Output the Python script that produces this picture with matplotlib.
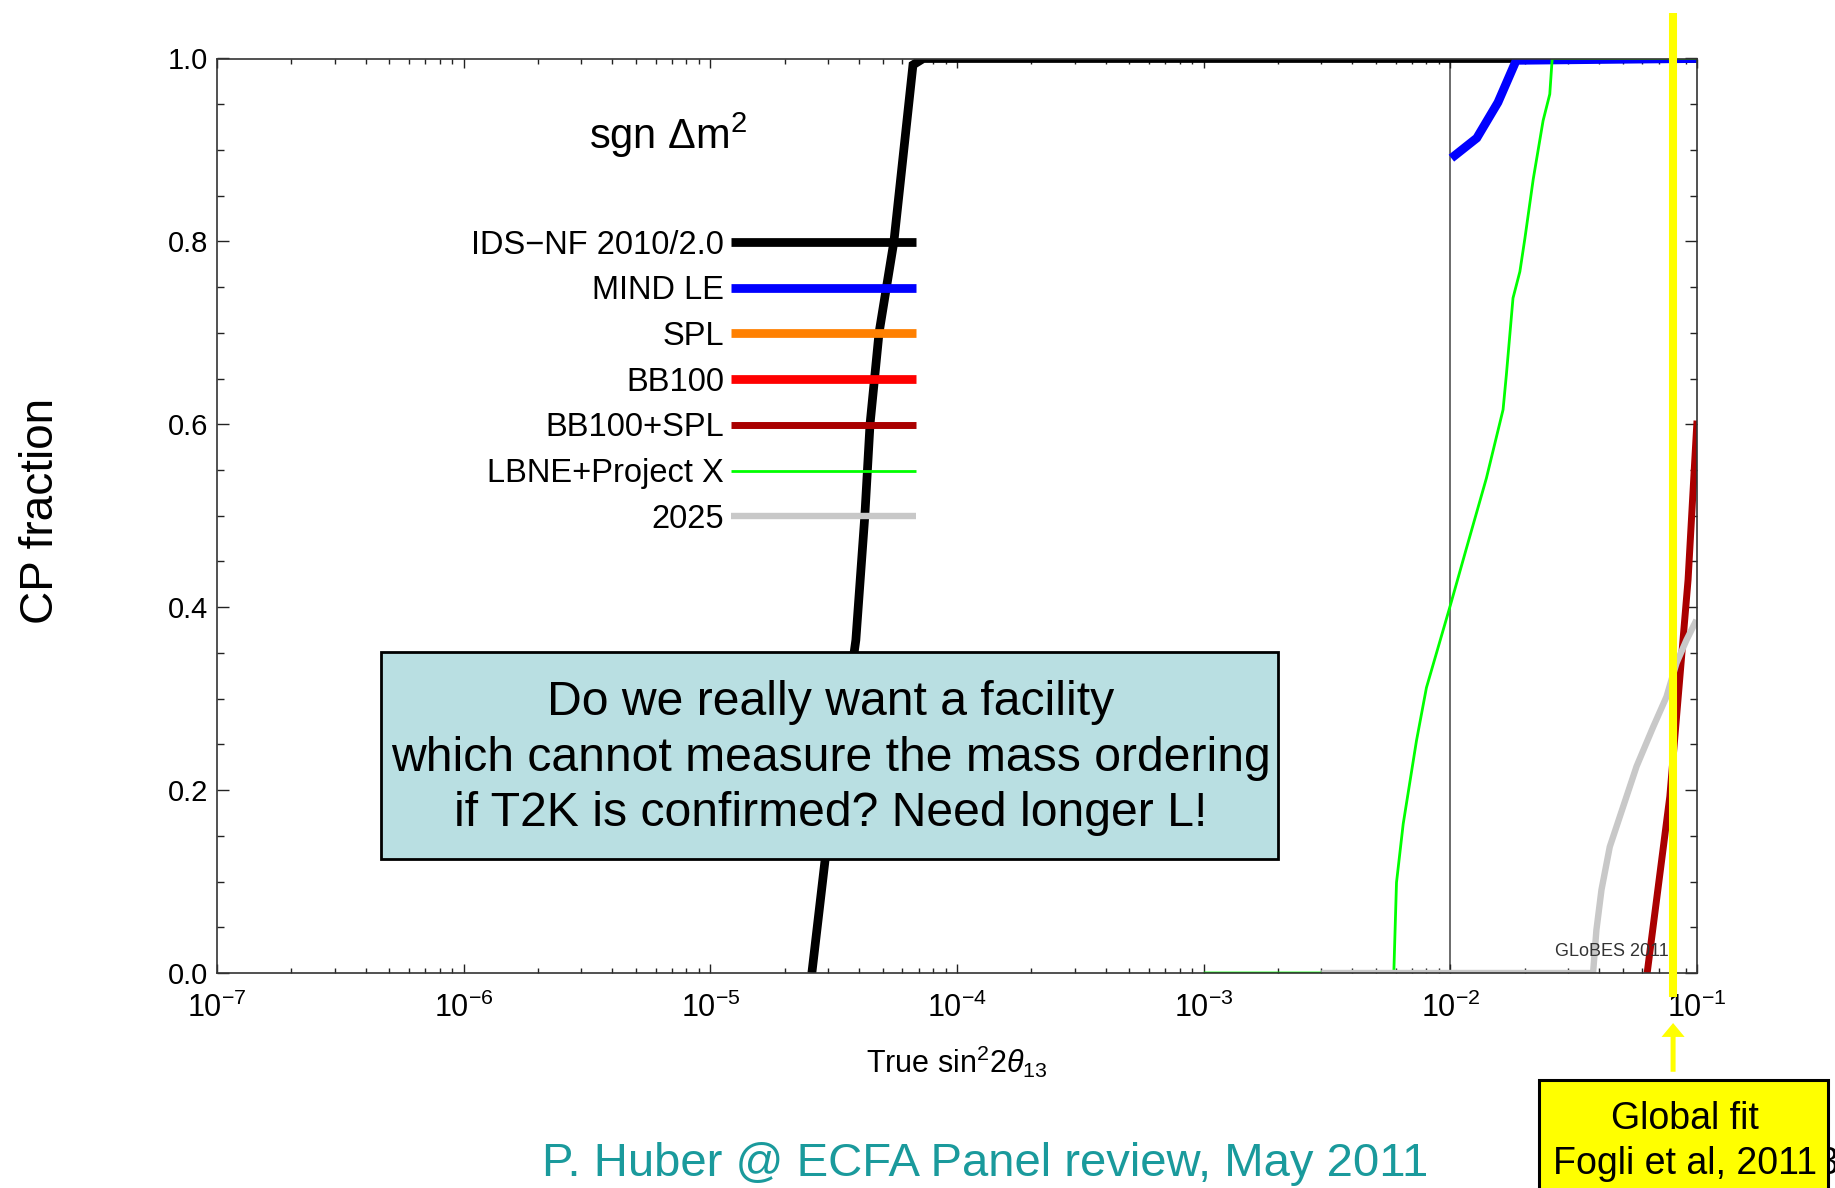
import numpy as np
import matplotlib
matplotlib.use("Agg")
import matplotlib.pyplot as plt
from matplotlib.patches import Rectangle
from matplotlib.ticker import FixedLocator, MultipleLocator, FuncFormatter, NullFormatter, FormatStrFormatter
from matplotlib.transforms import blended_transform_factory

plt.rcParams["font.family"] = ["Liberation Sans", "DejaVu Sans"]
plt.rcParams["mathtext.fontset"] = "custom"
plt.rcParams["mathtext.rm"] = "Liberation Sans"
plt.rcParams["mathtext.it"] = "Liberation Sans:italic"

# fraction of delta_CP for which sgn(dm^2) is resolved, vs true sin^2 2theta13
ids_x = [2.58e-5, 2.92e-5, 3.89e-5, 4.23e-5, 4.44e-5, 4.83e-5, 5.55e-5, 6.63e-5, 7.3e-5, 0.1]
ids_y = [0.0, 0.124, 0.364, 0.50, 0.60, 0.70, 0.80, 0.993, 1.0, 1.0]

mind_x = [0.0101, 0.0128, 0.0156, 0.0185, 0.1]
mind_y = [0.891, 0.913, 0.952, 0.998, 1.0]

# SPL and BB100 alone never leave zero inside the plotted range
spl_x, spl_y = [], []
bb100_x, bb100_y = [], []

bbspl_x = [0.0628, 0.0776, 0.092, 0.1]
bbspl_y = [0.0, 0.193, 0.430, 0.604]

lbne_x = [1e-3, 5.90e-3, 6.05e-3, 6.44e-3, 7.29e-3, 8.0e-3, 0.01, 0.01161, 0.014, 0.01636,
          0.01687, 0.01795, 0.01914, 0.02005, 0.02168, 0.02377, 0.0253, 0.02588, 0.1]
lbne_y = [0.0, 0.0, 0.099, 0.163, 0.254, 0.312, 0.402, 0.464, 0.541, 0.616,
          0.654, 0.738, 0.767, 0.803, 0.868, 0.932, 0.961, 1.0, 1.0]

y2025_x = [3.0e-3, 0.0379, 0.0391, 0.0410, 0.0443, 0.0502, 0.0569, 0.0664, 0.0752, 0.0826, 0.0906, 0.0995]
y2025_y = [0.0, 0.0, 0.047, 0.091, 0.138, 0.182, 0.226, 0.269, 0.302, 0.339, 0.364, 0.386]

series = [
    ("IDS\u2212NF 2010/2.0", ids_x, ids_y, "#000000", 6.3),
    ("MIND LE", mind_x, mind_y, "#0000FF", 6.3),
    ("SPL", spl_x, spl_y, "#FF8000", 6.3),
    ("BB100", bb100_x, bb100_y, "#FF0000", 6.3),
    ("BB100+SPL", bbspl_x, bbspl_y, "#AA0000", 5.0),
    ("LBNE+Project X", lbne_x, lbne_y, "#00FF00", 2.0),
    ("2025", y2025_x, y2025_y, "#C8C8C8", 4.6),
]

decades = np.arange(-7, 0)
global_fit = 0.08  # best-fit sin^2 2theta13 (Fogli et al. 2011)

fig = plt.figure(figsize=(18.35, 11.88), dpi=100)
ax = fig.add_axes([217 / 1835, 215 / 1188, 1480 / 1835, 914.5 / 1188])

for label, xs, ys, color, lw in series:
    ax.plot(xs, ys, color=color, lw=lw, label=label, solid_capstyle="butt", solid_joinstyle="miter")

ax.axvline(1e-2, color="#444444", lw=1.1, zorder=1.5)

ax.set_xscale("log")
ax.set_xlim(1e-7, 1e-1)
ax.set_ylim(0, 1)
ax.xaxis.set_major_locator(FixedLocator(10.0 ** decades))
ax.xaxis.set_minor_locator(FixedLocator([m * 10.0 ** d for d in decades[:-1] for m in range(2, 10)]))
ax.xaxis.set_minor_formatter(NullFormatter())
ax.xaxis.set_major_formatter(FuncFormatter(lambda v, p: r"$\mathregular{10^{%d}}$" % round(np.log10(v))))
ax.yaxis.set_major_locator(MultipleLocator(0.2))
ax.yaxis.set_minor_locator(MultipleLocator(0.05))
ax.yaxis.set_major_formatter(FormatStrFormatter("%.1f"))

ax.tick_params(which="both", direction="in", top=True, right=True, width=1.0, color="#222222")
ax.tick_params(axis="x", which="major", length=6.5, labelsize=22, pad=14)
ax.tick_params(axis="x", which="minor", length=3.6)
ax.tick_params(axis="y", which="major", length=8.6, labelsize=21, pad=6.5)
ax.tick_params(axis="y", which="minor", length=5)
for sp in ax.spines.values():
    sp.set_linewidth(1.2)
    sp.set_color("#333333")

ax.set_ylabel("CP fraction", fontsize=33)
ax.yaxis.set_label_coords(-0.104, 0.505)
ax.set_xlabel(r"True sin$^2$2$\theta_{13}$", fontsize=22)
ax.xaxis.set_label_coords(0.5, -0.077)

leg = ax.legend(loc="upper right", bbox_to_anchor=(0.4723, 0.813), bbox_transform=ax.transAxes,
                markerfirst=False, frameon=False, fontsize=23.5, handlelength=5.67,
                handletextpad=0.21, labelspacing=0.45, borderpad=0, borderaxespad=0)
ax.text(0.3047, 0.916, "sgn \u0394m$^2$", transform=ax.transAxes, ha="center", va="center", fontsize=30)

ax.text(0.904, 0.024, "GLoBES 2011", transform=ax.transAxes, ha="left", va="center",
        fontsize=13, color="#333333")

# message box over the plot
ax.add_patch(Rectangle((0.1111, 0.1247), 0.6058, 0.2263, transform=ax.transAxes,
                       facecolor="#B9DFE2", edgecolor="black", lw=2.0, zorder=6, clip_on=False))
ax.text(0.4149, 0.2351,
        "Do we really want a facility\nwhich cannot measure the mass ordering\nif T2K is confirmed? Need longer L!",
        transform=ax.transAxes, ha="center", va="center", fontsize=34.7, linespacing=1.31, zorder=7)

# global fit marker
trans = blended_transform_factory(ax.transData, ax.transAxes)
ax.plot([global_fit, global_fit], [-0.026, 1.05], transform=trans, color="#FFFF00", lw=5.8,
        solid_capstyle="butt", clip_on=False, zorder=10)
ax.annotate("", xy=(global_fit, -0.0547), xytext=(global_fit, -0.108), xycoords=trans, textcoords=trans,
            arrowprops=dict(arrowstyle="simple,head_width=1.66,head_length=1.0,tail_width=0.36",
                            mutation_scale=10, fc="#FFFF00", ec="none", shrinkA=0, shrinkB=0),
            annotation_clip=False)

fig.text(1818 / 1835, 1 - 1164 / 1188, "3", ha="left", va="center", fontsize=27, zorder=4)
fig.add_artist(Rectangle((1539 / 1835, -0.02), (1828 - 1539) / 1835, 0.02 + 108 / 1188,
                         transform=fig.transFigure, facecolor="#FFFF00", edgecolor="black", lw=2.2, zorder=5))
fig.text(1685 / 1835, 1 - 1119 / 1188, "Global fit", ha="center", va="center", fontsize=27, zorder=6)
fig.text(1685 / 1835, 1 - 1164 / 1188, "Fogli et al, 2011", ha="center", va="center", fontsize=27, zorder=6)

fig.text(985 / 1835, 1 - 1164 / 1188, "P. Huber @ ECFA Panel review, May 2011",
         color="#1A9A9C", fontsize=34, ha="center", va="center")

fig.savefig("out.png", dpi=100)
